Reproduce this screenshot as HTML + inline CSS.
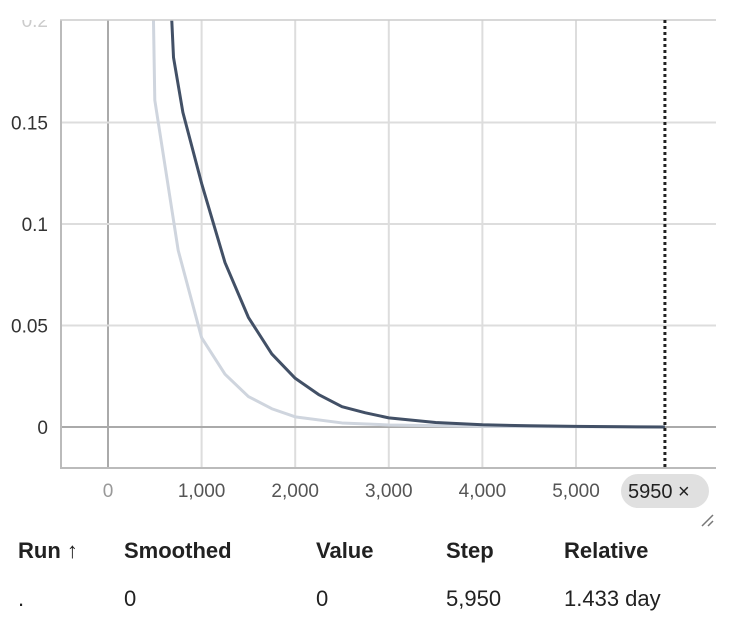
<!DOCTYPE html>
<html><head><meta charset="utf-8"><style>
body{margin:0;width:740px;height:632px;background:#fff;font-family:"Liberation Sans",Roboto,sans-serif;overflow:hidden;position:relative}
svg{position:absolute;left:0;top:0}
.tbl{position:absolute;font-size:22px;color:#212121}
.h{font-weight:bold;top:538px}
.r{top:586px}
</style></head><body>
<svg id="chart" width="740" height="632">
<defs><clipPath id="clip"><rect x="61" y="20" width="655" height="448"/></clipPath></defs>
<g id="grid"></g>
<text x="48" y="27" font-size="19" fill="#ccc" text-anchor="end">0.2</text>
<rect x="0" y="0" width="60" height="20" fill="#fff"/>
<g id="lines" clip-path="url(#clip)"></g>
<line x1="61" y1="20" x2="61" y2="468" stroke="#bbb" stroke-width="2"/>
<line x1="60" y1="468" x2="716" y2="468" stroke="#bbb" stroke-width="2"/>
<line x1="60" y1="20" x2="716" y2="20" stroke="#ccc" stroke-width="1.5"/>
<g id="ticks"></g>
<rect x="621" y="474" width="88" height="34" rx="17" fill="#e0e0e0"/>
<text x="628" y="498" font-size="20" fill="#212121">5950 ×</text>
<path d="M702 526 L713 515 M708 526 L713 521" stroke="#777" stroke-width="1.5"/>
</svg>
<div class="tbl h" style="left:18px">Run ↑</div>
<div class="tbl h" style="left:124px">Smoothed</div>
<div class="tbl h" style="left:316px">Value</div>
<div class="tbl h" style="left:446px">Step</div>
<div class="tbl h" style="left:564px">Relative</div>
<div class="tbl r" style="left:18px">.</div>
<div class="tbl r" style="left:124px">0</div>
<div class="tbl r" style="left:316px">0</div>
<div class="tbl r" style="left:446px">5,950</div>
<div class="tbl r" style="left:564px">1.433 day</div>
<script>
const xTicks=[0,1000,2000,3000,4000,5000];
const xTickLabels=["0","1,000","2,000","3,000","4,000","5,000"];
const yTicks=[0,0.05,0.1,0.15];
const yTickLabels=["0","0.05","0.1","0.15"];
const steps=[250,500,600,700,800,1000,1250,1500,1750,2000,2250,2500,2750,3000,3500,4000,4500,5000,5500,5950];
const smoothed=[0.6,0.4,0.28,0.182,0.155,0.12,0.081,0.054,0.036,0.024,0.016,0.010,0.007,0.0045,0.0022,0.0011,0.0006,0.0003,0.0001,0];
const rawSteps=[250,450,500,750,1000,1250,1500,1750,2000,2500,3000,4000,5000,5950];
const rawValues=[0.6,0.3,0.161,0.087,0.044,0.026,0.015,0.009,0.005,0.002,0.001,0.0003,0.0001,0];
const cursorStep=5950;
const X=s=>108+s*0.0936, Y=v=>427-v*2030;
const ns="http://www.w3.org/2000/svg";
function mk(t,a,p){const e=document.createElementNS(ns,t);for(const k in a)e.setAttribute(k,a[k]);p.appendChild(e);return e;}
const g=document.getElementById('grid'),tk=document.getElementById('ticks'),L=document.getElementById('lines');
xTicks.forEach((s,i)=>{
 const l=mk('line',{x1:X(s),y1:20,x2:X(s),y2:468,stroke:s===0?'#aaa':'#ddd','stroke-width':2},g);
 
 
 const t=mk('text',{x:X(s),y:497,'font-size':19,fill:s===0?'#999':'#555','text-anchor':'middle'},tk);
 t.textContent=xTickLabels[i];
 
 
});
yTicks.forEach((v,i)=>{
 const l=mk('line',{x1:61,y1:Y(v),x2:716,y2:Y(v),stroke:v===0?'#aaa':'#ddd','stroke-width':2},g);
 
 
 const t=mk('text',{x:48,y:Y(v)+7,'font-size':19,fill:'#333','text-anchor':'end'},tk);
 t.textContent=yTickLabels[i];
 
 
});
const raw=mk('polyline',{points:rawSteps.map((s,i)=>X(s)+','+Y(rawValues[i])).join(' '),fill:'none',stroke:'#cfd5de','stroke-width':3,'stroke-linejoin':'round'},L);


const sm=mk('polyline',{points:steps.map((s,i)=>X(s)+','+Y(smoothed[i])).join(' '),fill:'none',stroke:'#425066','stroke-width':3,'stroke-linejoin':'round'},L);


const c=mk('line',{x1:X(cursorStep),y1:20,x2:X(cursorStep),y2:468,stroke:'#222','stroke-width':3,'stroke-dasharray':'3,3'},document.getElementById('chart'));


</script>
</body></html>
